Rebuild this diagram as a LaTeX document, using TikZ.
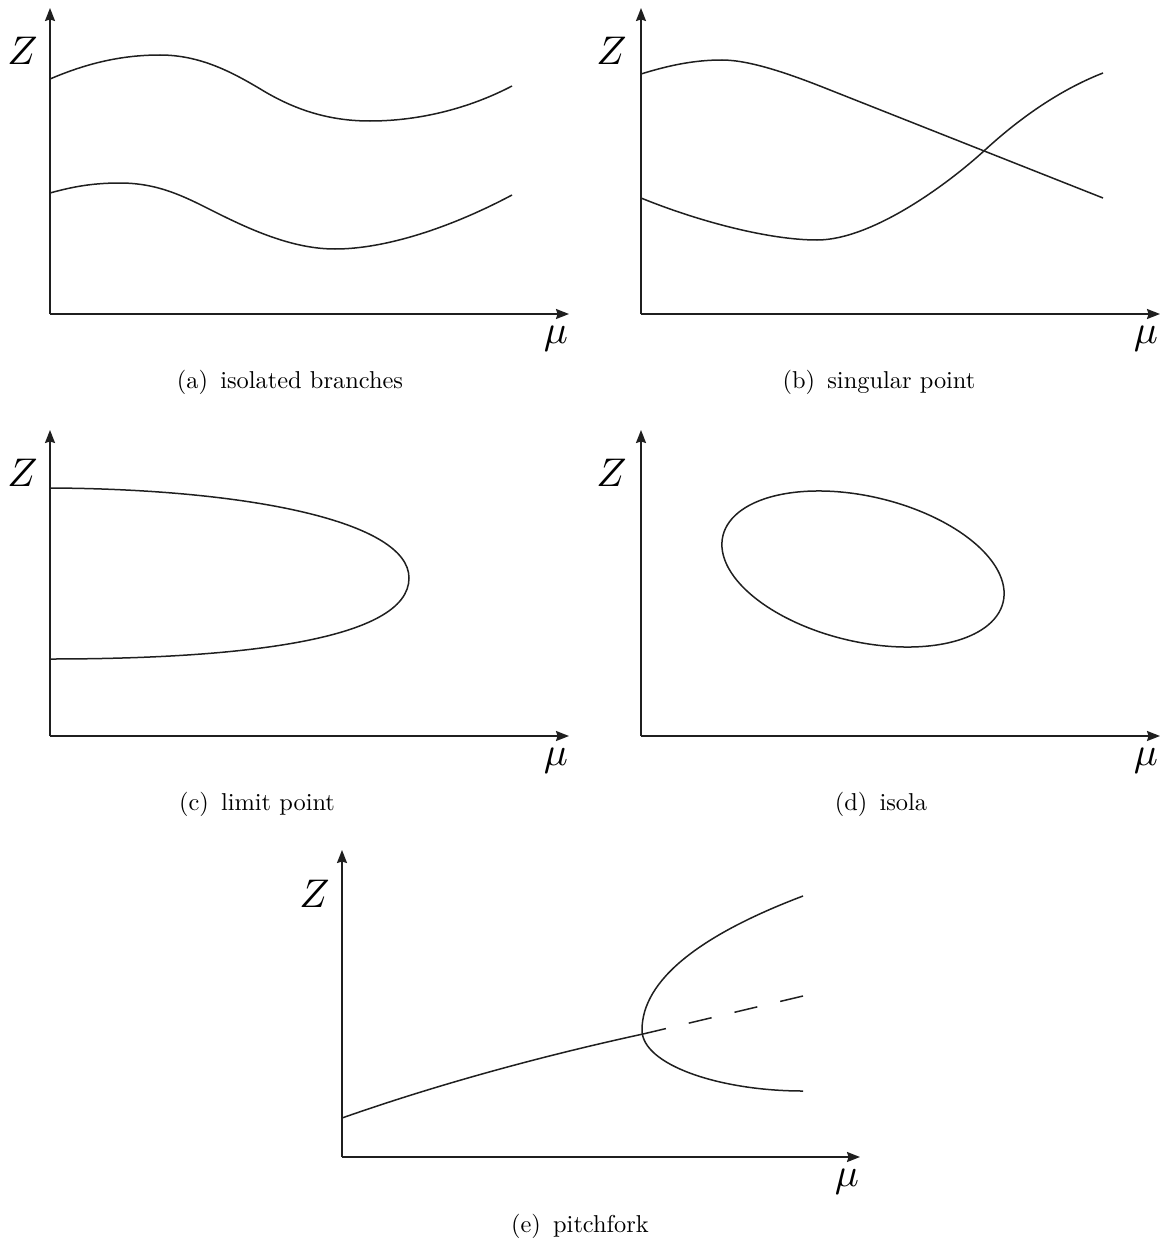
\documentclass[tikz,border=0pt]{standalone}
\usetikzlibrary{arrows.meta}
\begin{document}
\begin{tikzpicture}[x=1pt,y=-1pt,
  axis/.style={line width=1.8pt,draw=black!88,-{Stealth[length=13pt,width=10pt,inset=1.5pt]}},
  curve/.style={line width=1.5pt,draw=black!88,line join=round},
  captext/.style={scale=2.44,anchor=base,inner sep=0pt},
  axlab/.style={scale=4.0,inner sep=0pt}]
\useasboundingbox (0,0) rectangle (1162,1247);
% ---------- (a)
\coordinate (Oa) at (50,314); \coordinate (Ya) at (50,8); \coordinate (Xa) at (569,314);
\draw[axis] (Oa) -- (Ya); \draw[axis] (Oa) -- (Xa);
\node[axlab] (Za) at (22.5,51) {$Z$};
\node[axlab] (Ma) at (556,339) {$\mu$};
\draw[curve] (50,79) .. controls (85,64) and (120,55) .. (160,55)
  .. controls (200,55) and (232,72) .. (262,90)
  .. controls (300,113) and (335,121) .. (370,121)
  .. controls (420,121) and (470,108) .. (512,86);
\draw[curve] (50,193) .. controls (75,186) and (95,183) .. (120,183)
  .. controls (160,183) and (187,198) .. (217,213)
  .. controls (255,232) and (295,249) .. (335,249)
  .. controls (385,249) and (450,228) .. (512,195);
\node[captext] (Ca) at (290,388) {(a)\, isolated branches};
% ---------- (b)
\coordinate (Ob) at (641,314); \coordinate (Yb) at (641,8); \coordinate (Xb) at (1160,314);
\draw[axis] (Ob) -- (Yb); \draw[axis] (Ob) -- (Xb);
\node[axlab] (Zb) at (611.5,51) {$Z$};
\node[axlab] (Mb) at (1146,339) {$\mu$};
\draw[curve] (641,74) .. controls (670,65) and (695,60) .. (722,60)
  .. controls (750,60) and (790,74) .. (830,90) -- (1103,198);
\draw[curve] (641,198) .. controls (700,222) and (770,240) .. (817,240)
  .. controls (872,240) and (948,184) .. (985,150)
  .. controls (1022,116) and (1062,89) .. (1103,73);
\node[captext] (Cb) at (879,388) {(b)\, singular point};
% ---------- (c)
\coordinate (Oc) at (50,736); \coordinate (Yc) at (50,430); \coordinate (Xc) at (569,736);
\draw[axis] (Oc) -- (Yc); \draw[axis] (Oc) -- (Xc);
\node[axlab] (Zc) at (22.5,473) {$Z$};
\node[axlab] (Mc) at (556,761) {$\mu$};
\draw[curve] (50,488) .. controls (250,489) and (409,522) .. (409,578)
  .. controls (409,640) and (240,659) .. (50,659);
\node[captext] (Cc) at (257,810) {(c)\, limit point};
% ---------- (d)
\coordinate (Od) at (641,736); \coordinate (Yd) at (641,430); \coordinate (Xd) at (1160,736);
\draw[axis] (Od) -- (Yd); \draw[axis] (Od) -- (Xd);
\node[axlab] (Zd) at (611.5,473) {$Z$};
\node[axlab] (Md) at (1146,761) {$\mu$};
\draw[curve] plot[smooth cycle,domain=0:357,samples=120,variable=\t]
  ({863+144*cos(\t)*cos(13.3)-72.6*sin(\t)*sin(13.3)},{569+144*cos(\t)*sin(13.3)+72.6*sin(\t)*cos(13.3)});
\node[captext] (Cd) at (881,810) {(d)\, isola};
% ---------- (e)
\coordinate (Oe) at (342,1157); \coordinate (Ye) at (342,850); \coordinate (Xe) at (860,1157);
\draw[axis] (Oe) -- (Ye); \draw[axis] (Oe) -- (Xe);
\node[axlab] (Ze) at (314.5,894) {$Z$};
\node[axlab] (Me) at (847,1182) {$\mu$};
\coordinate (S) at (342,1118); \coordinate (J) at (643,1034); \coordinate (D) at (803,996);
\coordinate (T) at (803,896); \coordinate (N) at (642,1030); \coordinate (B) at (803,1091);
\draw[curve] (S) .. controls (450,1080) and (560,1052) .. (J);
\draw[curve,dash pattern=on 23.5pt off 23.5pt] (J) -- (D);
\draw[curve] (T) .. controls (700,935) and (642,980) .. (N)
  .. controls (642,1065) and (720,1091) .. (B);
\node[captext] (Ce) at (580,1232) {(e)\, pitchfork};
\end{tikzpicture}
\end{document}
